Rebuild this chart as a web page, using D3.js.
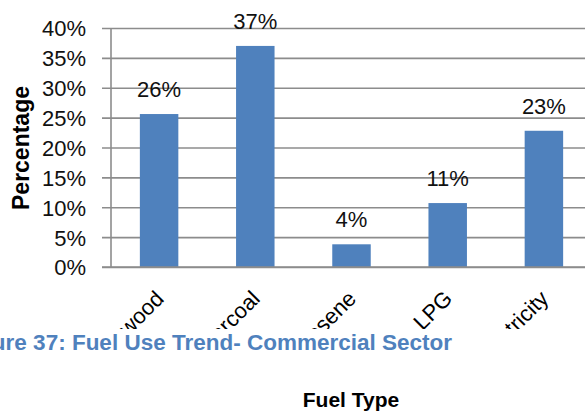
<!DOCTYPE html>
<html>
<head>
<meta charset="utf-8">
<script src="https://cdn.jsdelivr.net/npm/d3@7"></script>
<style>
  html, body { margin: 0; padding: 0; background: #fff; }
  svg { display: block; }
  text { font-family: "Liberation Sans", Arial, sans-serif; }
</style>
</head>
<body>
<svg id="chart" width="585" height="413"></svg>
<script>
const categories = ["Firewood", "Charcoal", "Kerosene", "LPG", "Electricity"];
const values = [0.256, 0.370, 0.038, 0.107, 0.228];
const yTicks = [0, 0.05, 0.10, 0.15, 0.20, 0.25, 0.30, 0.35, 0.40];
const yTitle = "Percentage";
const xTitle = "Fuel Type";
const caption = "Figure 37: Fuel Use Trend- Commercial Sector";

const svg = d3.select("#chart");
const x0 = 111, x1 = 592, yTop = 28, yBot = 267;

const x = d3.scaleBand().domain(categories).range([x0, x1]).paddingInner(0.6).paddingOuter(0.3);
const y = d3.scaleLinear().domain([0, 0.4]).range([yBot, yTop]);
const pct = d3.format(".0%");

// gridlines + y axis
const yAxis = d3.axisLeft(y).tickValues(yTicks).tickFormat(pct)
  .tickSize(-(x1 - x0)).tickSizeOuter(0).tickPadding(25);
const gy = svg.append("g").attr("transform", `translate(${x0},0)`).call(yAxis);
gy.select(".domain").remove();
gy.selectAll(".tick line").attr("x1", -9).attr("stroke", "#8c8c8c").attr("stroke-width", 1.6);
gy.selectAll(".tick text").attr("font-size", 22).attr("fill", "#111")
  .attr("font-family", "Roboto, 'Liberation Sans', sans-serif").attr("dy", "0.36em");
svg.append("line").attr("x1", x0).attr("x2", x0).attr("y1", yTop).attr("y2", yBot)
  .attr("stroke", "#8c8c8c").attr("stroke-width", 1.6);

// bars
svg.append("g").selectAll("rect").data(values).join("rect")
  .attr("x", (d, i) => x(categories[i]))
  .attr("width", x.bandwidth())
  .attr("y", d => y(d))
  .attr("height", d => yBot - y(d))
  .attr("fill", "#4f81bd");

// bottom axis line (drawn over)
svg.append("line").attr("x1", x0 - 9).attr("x2", 585).attr("y1", yBot).attr("y2", yBot)
  .attr("stroke", "#8c8c8c").attr("stroke-width", 1.6);

// data labels
svg.append("g").selectAll("text").data(values).join("text")
  .attr("x", (d, i) => x(categories[i]) + x.bandwidth() / 2)
  .attr("y", d => y(d) - 17)
  .attr("text-anchor", "middle")
  .attr("font-size", 22)
  .attr("font-family", "Roboto, 'Liberation Sans', sans-serif")
  .attr("fill", "#111")
  .text(d => pct(d));

// category labels (clipped by caption band)
svg.append("clipPath").attr("id", "lblclip").append("rect")
  .attr("x", 0).attr("y", 0).attr("width", 585).attr("height", 329);
svg.append("g").attr("clip-path", "url(#lblclip)")
  .selectAll("text").data(categories).join("text")
  .attr("transform", d => `translate(${x(d) + x.bandwidth() / 2 + 6},${yBot + 33}) rotate(-45)`)
  .attr("text-anchor", "end")
  .attr("font-size", 22)
  .attr("fill", "#000")
  .text(d => d);

// y title
svg.append("text")
  .attr("transform", "translate(29,148) rotate(-90)")
  .attr("text-anchor", "middle")
  .attr("font-size", 23)
  .attr("font-weight", "bold")
  .attr("fill", "#000")
  .text(yTitle);

// x title
svg.append("text")
  .attr("x", 351).attr("y", 407)
  .attr("text-anchor", "middle")
  .attr("font-size", 21)
  .attr("font-weight", "bold")
  .attr("font-family", "'Liberation Sans Narrow', 'Liberation Sans', sans-serif")
  .attr("fill", "#000")
  .text(xTitle);

// caption
svg.append("text")
  .attr("x", 452).attr("y", 350)
  .attr("text-anchor", "end")
  .attr("font-size", 22.5)
  .attr("font-weight", "bold")
  .attr("fill", "#4f81bd")
  .text(caption);
</script>
</body>
</html>
